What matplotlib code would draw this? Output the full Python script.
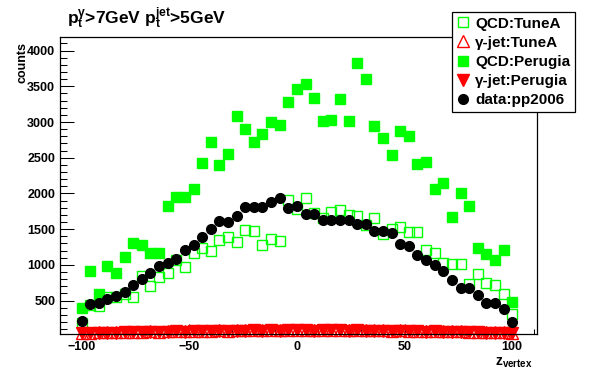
from matplotlib import pyplot as plt
from matplotlib.ticker import MultipleLocator
import numpy as np

plt.rcParams["font.family"] = "Liberation Sans"
plt.rcParams["font.weight"] = "bold"
plt.rcParams["mathtext.fontset"] = "custom"
plt.rcParams["mathtext.rm"] = "Liberation Sans:bold"
plt.rcParams["mathtext.it"] = "Liberation Sans:bold"
plt.rcParams["mathtext.bf"] = "Liberation Sans:bold"
plt.rcParams["mathtext.default"] = "rm"

# z vertex bin centres
zvtx = np.arange(-100, 101, 4)

qcd_tuneA = [180, 440, 430, 556, 556, 594, 547, 846, 706, 836,
             883, 1070, 967, 1165, 1233, 1193, 1350, 1387, 1317, 1483,
             1472, 1278, 1361, 1333, 1907, 1780, 1938, 1725, 1660, 1740,
             1768, 1700, 1688, 1558, 1655, 1436, 1497, 1532, 1462, 1460,
             1205, 1172, 1032, 1009, 1009, 729, 869, 743, 720, 589,
             309]
gjet_tuneA = [45, 50, 55, 55, 60, 60, 65, 60, 70, 65,
              70, 75, 70, 80, 75, 80, 85, 80, 85, 90,
              85, 90, 90, 95, 90, 95, 90, 95, 90, 90,
              95, 90, 85, 90, 85, 90, 80, 85, 80, 80,
              75, 80, 70, 75, 70, 65, 65, 60, 60, 55,
              50]
qcd_perugia = [390, 920, 594, 990, 892, 1116, 1312, 1284, 1172, 1172,
               1826, 1956, 1955, 2068, 2428, 2722, 2404, 2558, 3086, 2904,
               2726, 2838, 3002, 2964, 3282, 3464, 3534, 3338, 3016, 3030,
               3324, 3016, 3828, 3604, 2946, 2782, 2540, 2876, 2808, 2418,
               2442, 2064, 2152, 1676, 2012, 1826, 1242, 1154, 1070, 1210,
               486]
gjet_perugia = [40, 45, 45, 50, 50, 55, 55, 60, 60, 65,
                60, 70, 65, 70, 75, 70, 75, 80, 75, 80,
                85, 80, 85, 80, 85, 90, 85, 80, 85, 90,
                85, 80, 85, 80, 75, 80, 75, 70, 75, 70,
                65, 70, 65, 60, 60, 55, 55, 50, 50, 45,
                40]
data_pp2006 = [210, 453, 467, 524, 570, 617, 720, 804, 883, 986,
               1023, 1079, 1210, 1275, 1387, 1499, 1616, 1597, 1681, 1812,
               1812, 1812, 1884, 1940, 1793, 1825, 1714, 1714, 1625, 1625,
               1625, 1625, 1574, 1574, 1476, 1476, 1443, 1290, 1266, 1138,
               1070, 1000, 916, 790, 673, 673, 580, 472, 472, 379,
               202]

green = "#00ff00"
red = "#ff0000"

fig = plt.figure(figsize=(5.96, 3.72), dpi=100)
ax = fig.add_axes([0.1007, 0.1022, 0.8003, 0.7983])

ax.plot(zvtx, qcd_tuneA, ls="none", marker="s", ms=6.8, mfc="none",
        mec=green, mew=1.0, label="QCD:TuneA")
ax.plot(zvtx, gjet_tuneA, ls="none", marker="^", ms=8, mfc="none",
        mec=red, mew=1.0, label="\u03b3-jet:TuneA", clip_on=False)
ax.plot(zvtx, qcd_perugia, ls="none", marker="s", ms=6.8, mfc=green,
        mec=green, label="QCD:Perugia")
ax.plot(zvtx, gjet_perugia, ls="none", marker="v", ms=8, mfc=red,
        mec=red, label="\u03b3-jet:Perugia", clip_on=False)
ax.plot(zvtx, data_pp2006, ls="none", marker="o", ms=7, mfc="black",
        mec="black", label="data:pp2006")

ax.set_xlim(-110, 111.5)
ax.set_ylim(33, 4190)
ax.set_xticks([-100, -50, 0, 50, 100])
ax.xaxis.set_minor_locator(MultipleLocator(10))
ax.set_yticks([500, 1000, 1500, 2000, 2500, 3000, 3500, 4000])
ax.yaxis.set_minor_locator(MultipleLocator(100))
ax.tick_params(which="both", direction="in", top=False, right=False,
               labelsize=9, width=0.75)
ax.tick_params(axis="y", which="major", length=10)
ax.tick_params(axis="y", which="minor", length=5)
ax.tick_params(axis="x", which="major", length=7, pad=5)
ax.tick_params(axis="x", which="minor", length=3.5)
for s in ax.spines.values():
    s.set_linewidth(0.9)

fig.text(67 / 596, 1 - 24 / 372,
         "$p_t^{\u03b3}$>7GeV $p_t^{jet}$>5GeV", fontsize=12.5,
         fontweight="bold", va="baseline", ha="left")
fig.text(23 / 596, 1 - 42 / 372, "counts", rotation=90, fontsize=9,
         fontweight="bold", ha="center", va="top")
fig.text(533 / 596, 1 - 363 / 372, "$z_{vertex}$", fontsize=10,
         fontweight="bold", ha="right", va="center")

handles, labels = ax.get_legend_handles_labels()
leg = fig.legend(handles, labels, loc="upper left",
                 bbox_to_anchor=(452 / 596, 1 - 12 / 372), borderaxespad=0,
                 fancybox=False, framealpha=1, edgecolor="black",
                 prop={"size": 11, "weight": "bold"}, handlelength=0.9,
                 handletextpad=0.3, labelspacing=0.34, borderpad=0.3,
                 numpoints=1)
leg.get_frame().set_linewidth(0.9)

fig.savefig("out.png", dpi=100)
